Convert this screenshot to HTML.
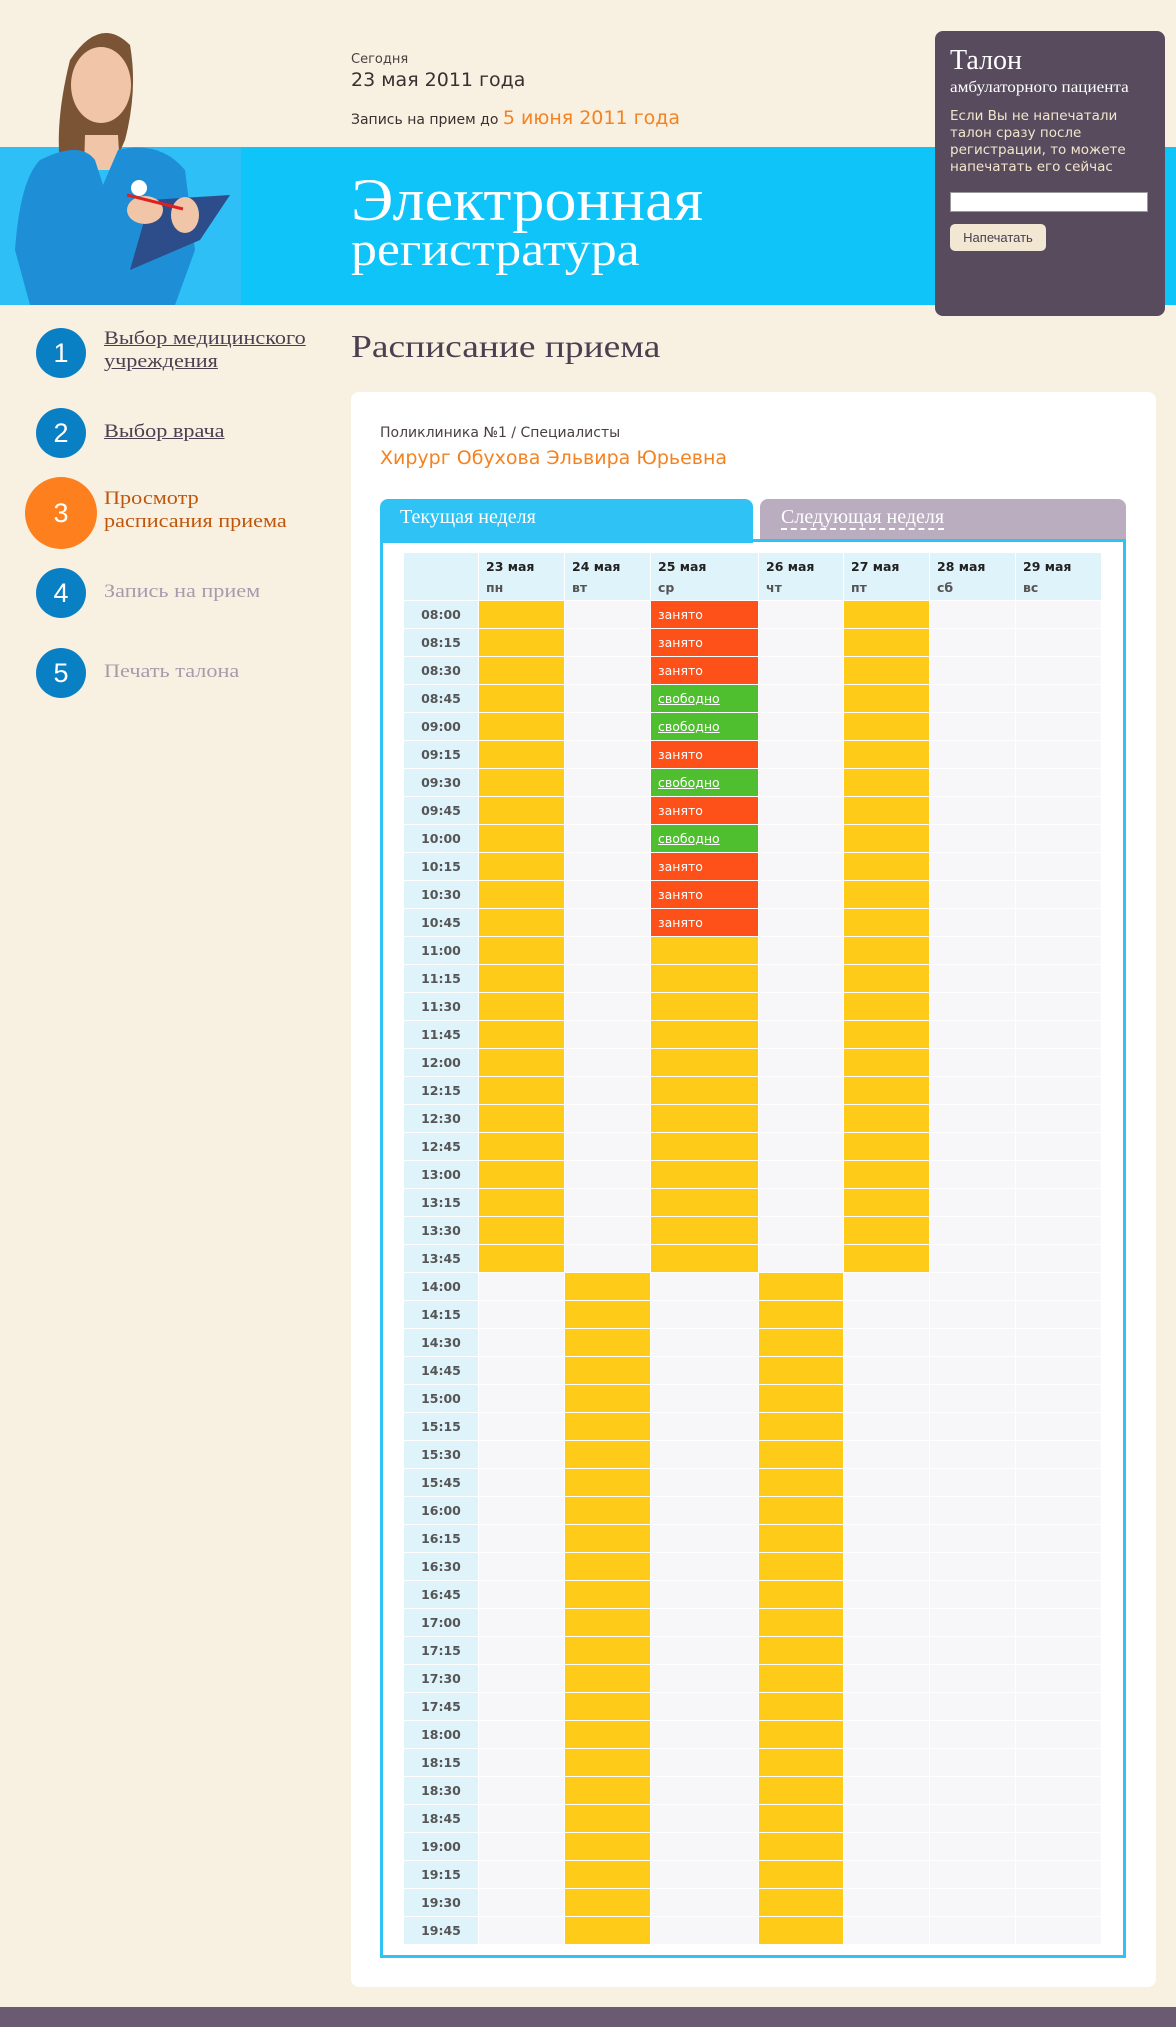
<!DOCTYPE html>
<html><head><meta charset="utf-8">
<style>
*{margin:0;padding:0;box-sizing:border-box}
body{width:1176px;height:2027px;background:#f8f1e2;position:relative;overflow:hidden;font-family:"DejaVu Sans",sans-serif}
.a{position:absolute;white-space:nowrap}
.serif{font-family:"Liberation Serif","DejaVu Serif",serif}
.sx{transform-origin:0 0;transform:scaleX(1.17)}
.circ{position:absolute;border-radius:50%;background:#0a80c4;color:#fff;font-size:27px;text-align:center;font-family:"Liberation Sans",sans-serif}
.nav{position:absolute;left:104px;font-family:"Liberation Serif",serif;font-size:19px;line-height:23px;color:#4a4050;transform-origin:0 0;transform:scaleX(1.17);white-space:nowrap}
.nav u{text-decoration:underline}
table{position:absolute;left:403px;top:552px;border-collapse:collapse;table-layout:fixed;width:698px}
td,th{border:1px solid #fff;height:28px;padding:0;font-size:13px}
th{background:#dff3fa;color:#555;font-weight:bold;text-align:center;font-family:"DejaVu Sans",sans-serif;font-size:12.5px}
td{background:#f7f7f9;padding-left:7px;color:#fff;font-family:"DejaVu Sans",sans-serif;font-size:12.5px}
thead th{height:48px;text-align:left;padding-left:7px;color:#222;line-height:21px;vertical-align:middle}
thead th span{color:#555}
td.y{background:#fecb19}
td.r{background:#fe5019}
td.g{background:#4fbf2f;text-decoration:underline}
</style></head><body>
<div class="a" style="left:0;top:147px;width:1176px;height:158px;background:#0fc4f8"></div>
<div class="a" style="left:0;top:147px;width:241px;height:158px;background:#2dbff5"></div>
<svg class="a" style="left:0;top:0" width="245" height="306" viewBox="0 0 245 306">
 <path d="M70 60 Q100 15 130 45 Q138 90 125 140 Q115 165 100 170 L60 165 Q55 120 70 60Z" fill="#7a5434"/>
 <ellipse cx="101" cy="85" rx="30" ry="38" fill="#f1c6a8"/>
 <path d="M85 135 L118 135 L120 170 L84 170Z" fill="#f1c6a8"/>
 <path d="M40 160 Q80 140 95 160 L103 185 L118 150 Q160 140 185 170 L195 250 L175 305 L30 305 L15 250 Q20 180 40 160Z" fill="#1e8fd6"/>
 <path d="M150 200 L230 195 L200 240 L130 270Z" fill="#2c4d8a"/>
 <ellipse cx="145" cy="210" rx="18" ry="14" fill="#f1c6a8"/>
 <ellipse cx="185" cy="215" rx="14" ry="18" fill="#f1c6a8"/>
 <circle cx="139" cy="188" r="8" fill="#fff"/>
 <line x1="127" y1="195" x2="183" y2="209" stroke="#e02020" stroke-width="3"/>
</svg>
<div class="a" style="left:351px;top:52px;font-size:13px;color:#4a4040">Сегодня</div>
<div class="a" style="left:351px;top:69px;font-size:19px;color:#3a3030">23 мая 2011 года</div>
<div class="a" style="left:351px;top:107px;font-size:14px;color:#3a3030">Запись на прием до <span style="font-size:19px;color:#f58220">5 июня 2011 года</span></div>
<div class="a serif" style="left:351px;top:168px;font-size:60px;line-height:64px;color:#fff;transform-origin:0 0;transform:scaleX(1.07)">Электронная</div>
<div class="a serif" style="left:351px;top:224px;font-size:48px;line-height:52px;color:#fff;transform-origin:0 0;transform:scaleX(1.08)">регистратура</div>
<div class="a" style="left:935px;top:31px;width:230px;height:285px;background:#574b5d;border-radius:8px"></div>
<div class="a serif" style="left:950px;top:45px;font-size:28px;color:#fff">Талон</div>
<div class="a serif" style="left:950px;top:79px;font-size:16px;color:#fff;transform-origin:0 0;transform:scaleX(1.07)">амбулаторного пациента</div>
<div class="a" style="left:950px;top:108px;font-size:13.5px;line-height:17px;color:#f3e6cc">Если Вы не напечатали<br>талон сразу после<br>регистрации, то можете<br>напечатать его сейчас</div>
<div class="a" style="left:950px;top:192px;width:198px;height:20px;background:#fff;border:1px solid #999"></div>
<div class="a" style="left:950px;top:224px;width:96px;height:27px;background:#f1e7d2;border-radius:5px;font-size:13px;line-height:27px;text-align:center;color:#4a4050;font-family:'Liberation Sans',sans-serif">Напечатать</div>
<div class="circ" style="left:36px;top:328px;width:50px;height:50px;line-height:50px">1</div>
<div class="nav" style="top:327px"><u>Выбор медицинского</u><br><u>учреждения</u></div>
<div class="circ" style="left:36px;top:408px;width:50px;height:50px;line-height:50px">2</div>
<div class="nav" style="top:420px"><u>Выбор врача</u></div>
<div class="circ" style="left:25px;top:477px;width:72px;height:72px;line-height:72px;background:#fd7f1e">3</div>
<div class="nav" style="top:487px;color:#c0550b">Просмотр<br>расписания приема</div>
<div class="circ" style="left:36px;top:568px;width:50px;height:50px;line-height:50px">4</div>
<div class="nav" style="top:580px;color:#a89aab">Запись на прием</div>
<div class="circ" style="left:36px;top:648px;width:50px;height:50px;line-height:50px">5</div>
<div class="nav" style="top:660px;color:#a89aab">Печать талона</div>
<div class="a serif sx" style="left:351px;top:328px;font-size:32px;color:#4a4050">Расписание приема</div>
<div class="a" style="left:351px;top:392px;width:805px;height:1595px;background:#fff;border-radius:8px"></div>
<div class="a" style="left:380px;top:425px;font-size:14px;color:#4a4040">Поликлиника №1 / Специалисты</div>
<div class="a" style="left:380px;top:447px;font-size:19px;color:#f58220">Хирург Обухова Эльвира Юрьевна</div>
<div class="a" style="left:380px;top:499px;width:373px;height:44px;background:#2fc2f4;border-radius:8px 8px 0 0"></div>
<div class="a serif" style="left:400px;top:506px;font-size:20px;color:#fff">Текущая неделя</div>
<div class="a" style="left:760px;top:499px;width:366px;height:40px;background:#b9adbf;border-radius:8px 8px 0 0"></div>
<div class="a serif" style="left:781px;top:506px;font-size:20px;color:#fff;border-bottom:2px dashed #fff;line-height:22px">Следующая неделя</div>
<div class="a" style="left:380px;top:539px;width:746px;height:1419px;border:3px solid #2fc2f4"></div>
<table>
<colgroup><col style="width:75px"><col style="width:86px"><col style="width:86px"><col style="width:108px"><col style="width:85px"><col style="width:86px"><col style="width:86px"><col style="width:86px"></colgroup>
<thead><tr><th></th><th>23 мая<br><span>пн</span></th><th>24 мая<br><span>вт</span></th><th>25 мая<br><span>ср</span></th><th>26 мая<br><span>чт</span></th><th>27 мая<br><span>пт</span></th><th>28 мая<br><span>сб</span></th><th>29 мая<br><span>вс</span></th></tr></thead>
<tbody>
<tr><th>08:00</th><td class=y></td><td></td><td class=r>занято</td><td></td><td class=y></td><td></td><td></td></tr>
<tr><th>08:15</th><td class=y></td><td></td><td class=r>занято</td><td></td><td class=y></td><td></td><td></td></tr>
<tr><th>08:30</th><td class=y></td><td></td><td class=r>занято</td><td></td><td class=y></td><td></td><td></td></tr>
<tr><th>08:45</th><td class=y></td><td></td><td class=g>свободно</td><td></td><td class=y></td><td></td><td></td></tr>
<tr><th>09:00</th><td class=y></td><td></td><td class=g>свободно</td><td></td><td class=y></td><td></td><td></td></tr>
<tr><th>09:15</th><td class=y></td><td></td><td class=r>занято</td><td></td><td class=y></td><td></td><td></td></tr>
<tr><th>09:30</th><td class=y></td><td></td><td class=g>свободно</td><td></td><td class=y></td><td></td><td></td></tr>
<tr><th>09:45</th><td class=y></td><td></td><td class=r>занято</td><td></td><td class=y></td><td></td><td></td></tr>
<tr><th>10:00</th><td class=y></td><td></td><td class=g>свободно</td><td></td><td class=y></td><td></td><td></td></tr>
<tr><th>10:15</th><td class=y></td><td></td><td class=r>занято</td><td></td><td class=y></td><td></td><td></td></tr>
<tr><th>10:30</th><td class=y></td><td></td><td class=r>занято</td><td></td><td class=y></td><td></td><td></td></tr>
<tr><th>10:45</th><td class=y></td><td></td><td class=r>занято</td><td></td><td class=y></td><td></td><td></td></tr>
<tr><th>11:00</th><td class=y></td><td></td><td class=y></td><td></td><td class=y></td><td></td><td></td></tr>
<tr><th>11:15</th><td class=y></td><td></td><td class=y></td><td></td><td class=y></td><td></td><td></td></tr>
<tr><th>11:30</th><td class=y></td><td></td><td class=y></td><td></td><td class=y></td><td></td><td></td></tr>
<tr><th>11:45</th><td class=y></td><td></td><td class=y></td><td></td><td class=y></td><td></td><td></td></tr>
<tr><th>12:00</th><td class=y></td><td></td><td class=y></td><td></td><td class=y></td><td></td><td></td></tr>
<tr><th>12:15</th><td class=y></td><td></td><td class=y></td><td></td><td class=y></td><td></td><td></td></tr>
<tr><th>12:30</th><td class=y></td><td></td><td class=y></td><td></td><td class=y></td><td></td><td></td></tr>
<tr><th>12:45</th><td class=y></td><td></td><td class=y></td><td></td><td class=y></td><td></td><td></td></tr>
<tr><th>13:00</th><td class=y></td><td></td><td class=y></td><td></td><td class=y></td><td></td><td></td></tr>
<tr><th>13:15</th><td class=y></td><td></td><td class=y></td><td></td><td class=y></td><td></td><td></td></tr>
<tr><th>13:30</th><td class=y></td><td></td><td class=y></td><td></td><td class=y></td><td></td><td></td></tr>
<tr><th>13:45</th><td class=y></td><td></td><td class=y></td><td></td><td class=y></td><td></td><td></td></tr>
<tr><th>14:00</th><td></td><td class=y></td><td></td><td class=y></td><td></td><td></td><td></td></tr>
<tr><th>14:15</th><td></td><td class=y></td><td></td><td class=y></td><td></td><td></td><td></td></tr>
<tr><th>14:30</th><td></td><td class=y></td><td></td><td class=y></td><td></td><td></td><td></td></tr>
<tr><th>14:45</th><td></td><td class=y></td><td></td><td class=y></td><td></td><td></td><td></td></tr>
<tr><th>15:00</th><td></td><td class=y></td><td></td><td class=y></td><td></td><td></td><td></td></tr>
<tr><th>15:15</th><td></td><td class=y></td><td></td><td class=y></td><td></td><td></td><td></td></tr>
<tr><th>15:30</th><td></td><td class=y></td><td></td><td class=y></td><td></td><td></td><td></td></tr>
<tr><th>15:45</th><td></td><td class=y></td><td></td><td class=y></td><td></td><td></td><td></td></tr>
<tr><th>16:00</th><td></td><td class=y></td><td></td><td class=y></td><td></td><td></td><td></td></tr>
<tr><th>16:15</th><td></td><td class=y></td><td></td><td class=y></td><td></td><td></td><td></td></tr>
<tr><th>16:30</th><td></td><td class=y></td><td></td><td class=y></td><td></td><td></td><td></td></tr>
<tr><th>16:45</th><td></td><td class=y></td><td></td><td class=y></td><td></td><td></td><td></td></tr>
<tr><th>17:00</th><td></td><td class=y></td><td></td><td class=y></td><td></td><td></td><td></td></tr>
<tr><th>17:15</th><td></td><td class=y></td><td></td><td class=y></td><td></td><td></td><td></td></tr>
<tr><th>17:30</th><td></td><td class=y></td><td></td><td class=y></td><td></td><td></td><td></td></tr>
<tr><th>17:45</th><td></td><td class=y></td><td></td><td class=y></td><td></td><td></td><td></td></tr>
<tr><th>18:00</th><td></td><td class=y></td><td></td><td class=y></td><td></td><td></td><td></td></tr>
<tr><th>18:15</th><td></td><td class=y></td><td></td><td class=y></td><td></td><td></td><td></td></tr>
<tr><th>18:30</th><td></td><td class=y></td><td></td><td class=y></td><td></td><td></td><td></td></tr>
<tr><th>18:45</th><td></td><td class=y></td><td></td><td class=y></td><td></td><td></td><td></td></tr>
<tr><th>19:00</th><td></td><td class=y></td><td></td><td class=y></td><td></td><td></td><td></td></tr>
<tr><th>19:15</th><td></td><td class=y></td><td></td><td class=y></td><td></td><td></td><td></td></tr>
<tr><th>19:30</th><td></td><td class=y></td><td></td><td class=y></td><td></td><td></td><td></td></tr>
<tr><th>19:45</th><td></td><td class=y></td><td></td><td class=y></td><td></td><td></td><td></td></tr>
</tbody></table>
<div class="a" style="left:0;top:2007px;width:1176px;height:20px;background:#6a5b72"></div>
</body></html>
